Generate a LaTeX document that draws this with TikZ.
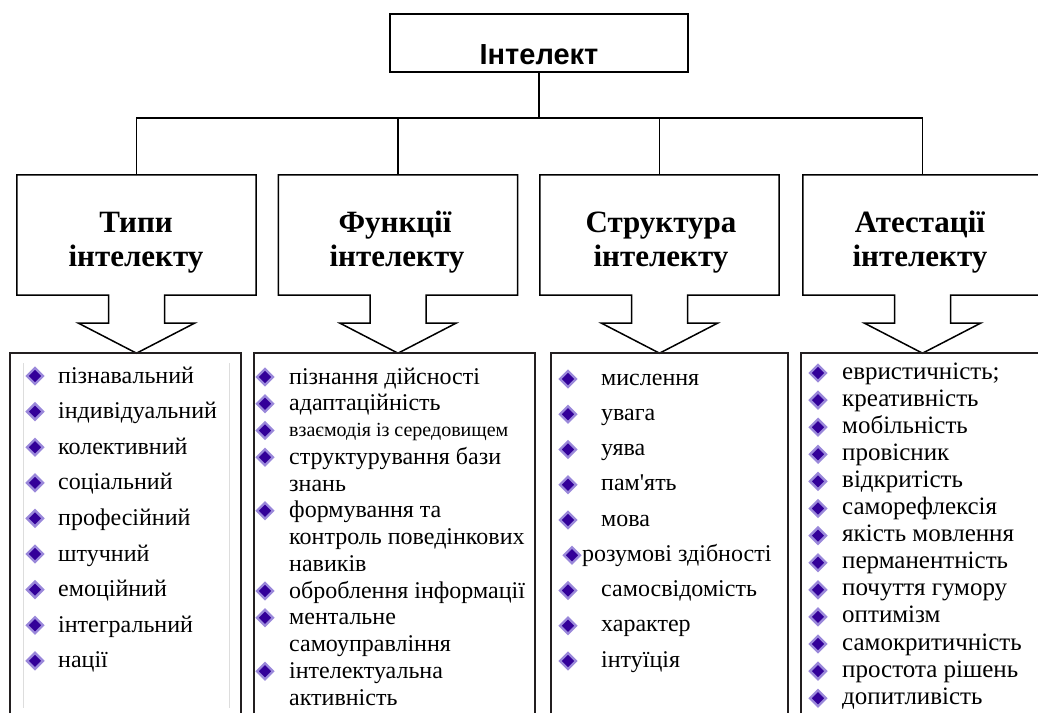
\documentclass[tikz,border=0pt]{standalone}
\usepackage{fontspec}
\setmainfont{Liberation Serif}[Ligatures=TeXOff]
\newfontfamily\headsans{Liberation Sans}
\usetikzlibrary{shapes.geometric,calc}
\definecolor{bulletfill}{HTML}{330099}
\definecolor{bulletedge}{HTML}{9A88DA}
\definecolor{boxline}{HTML}{231F20}
\definecolor{faint}{HTML}{DDDDDD}
\begin{document}
\begin{tikzpicture}[x=1pt,y=-1pt,
  calloutframe/.style={draw=black,line width=1.5pt,line join=miter,fill=white},
  conn/.style={draw=black,line width=1.2pt},
  topbox/.style={draw=black,line width=1.5pt,minimum width=298pt,minimum height=58pt,inner sep=0pt},
  toptext/.style={font=\headsans\bfseries\fontsize{29}{32}\selectfont,inner sep=0pt},
  headbox/.style={minimum width=239pt,minimum height=120pt,inner sep=0pt},
  headtext/.style={font=\bfseries\fontsize{31}{34}\selectfont,inner sep=0pt,anchor=base},
  listframe/.style={draw=boxline,line width=1.6pt},
  listitem/.style={anchor=base west,inner sep=0pt,font=\fontsize{24}{24}\selectfont},
  bigitem/.style={anchor=base west,inner sep=0pt,font=\fontsize{25}{25}\selectfont},
  smallitem/.style={anchor=base west,inner sep=0pt,font=\fontsize{20}{20}\selectfont},
  bul/.style={diamond,fill=bulletfill,draw=bulletedge,line width=2.4pt,minimum size=17pt,inner sep=0pt},
]
\useasboundingbox (0,0) rectangle (1038,713);
\clip (0,0) rectangle (1038,713);

% top box
\node[topbox] (top) at (539,43) {};
\node[toptext] (toplabel) at ($(top.center)+(0,12)$) {Інтелект};

% heading boxes (frames used as anchors)
\node[headbox] (h1) at (136.5,235) {};
\node[headbox] (h2) at (398,235) {};
\node[headbox] (h3) at (659.5,235) {};
\node[headbox] (h4) at (922.5,235) {};

% bus connectors
\coordinate (bus) at (539,118);
\draw[conn] (top.south) -- (bus);
\draw[conn] (h1.north) -- (h1.north |- bus) -- (h4.north |- bus) -- (h4.north);
\draw[conn] (h2.north) -- (h2.north |- bus);
\draw[conn] (h3.north) -- (h3.north |- bus);

% callout outlines
\foreach \h in {h1,h2,h3,h4}{
  \draw[calloutframe] (\h.north west) -- (\h.north east) -- (\h.south east)
    -- ($(\h.south)+(28,0)$) -- ($(\h.south)+(28,28)$) -- ($(\h.south)+(58,28)$)
    -- ($(\h.south)+(0,58)$) -- ($(\h.south)+(-58,28)$) -- ($(\h.south)+(-28,28)$)
    -- ($(\h.south)+(-28,0)$) -- (\h.south west) -- cycle;
}

% heading texts
\node[headtext] (h1a) at (136,232) {Типи};
\node[headtext] (h1b) at (136,266) {інтелекту};
\node[headtext] (h2a) at (395,232) {Функції};
\node[headtext] (h2b) at (397,266) {інтелекту};
\node[headtext] (h3a) at (661,232) {Структура};
\node[headtext] (h3b) at (661,266) {інтелекту};
\node[headtext] (h4a) at (920,232) {Атестації};
\node[headtext] (h4b) at (920,266) {інтелекту};

% list frames (open at the bottom)
\draw[listframe] (10,713) -- (10,353) -- (241,353) -- (241,713);
\draw[listframe] (254,713) -- (254,353) -- (535,353) -- (535,713);
\draw[listframe] (551,713) -- (551,353) -- (788,353) -- (788,713);
\draw[listframe] (801,713) -- (801,353) -- (1060,353) -- (1060,713);
\draw[faint,line width=0.8pt] (23,363) -- (23,708);
\draw[faint,line width=0.8pt] (229,363) -- (229,708);

% list 1
\foreach \t [count=\i from 0] in {пізнавальний,індивідуальний,колективний,соціальний,професійний,штучний,емоційний,інтегральний,нації}{
  \node[bul] (ba\i) at (35,376+35.6*\i) {};
  \node[listitem] (ta\i) at (58,383+35.6*\i) {\t};
}

% list 2
\node[listitem] (tb0) at (289,384.0) {пізнання дійсності};
\node[listitem] (tb1) at (289,410.8) {адаптаційність};
\node[smallitem] (tb2) at (289,436.5) {взаємодія із середовищем};
\node[listitem] (tb3) at (289,464.3) {структурування бази};
\node[listitem] (tb4) at (289,491.0) {знань};
\node[listitem] (tb5) at (289,517.8) {формування та};
\node[listitem] (tb6) at (289,544.5) {контроль поведінкових};
\node[listitem] (tb7) at (289,571.3) {навиків};
\node[listitem] (tb8) at (289,598.0) {оброблення інформації};
\node[listitem] (tb9) at (289,624.8) {ментальне};
\node[listitem] (tb10) at (289,651.5) {самоуправління};
\node[listitem] (tb11) at (289,678.3) {інтелектуальна};
\node[listitem] (tb12) at (289,705.0) {активність};
\foreach \k in {0,1,2,3,5,8,9,11}{
  \node[bul] (bb\k) at (265,377+26.75*\k) {};
}

% list 3
\foreach \t [count=\i from 0] in {мислення,увага,уява,пам'ять,мова}{
  \node[bul] (bc\i) at (568,379+35.25*\i) {};
  \node[listitem] (tc\i) at (601,385+35.25*\i) {\t};
}
\node[bul] (bc5) at (572,379+35.25*5) {};
\node[listitem] (tc5) at (582,385+35.25*5) {розумові здібності};
\foreach \t [count=\i from 6] in {самосвідомість,характер,інтуїція}{
  \node[bul] (bc\i) at (568,379+35.25*\i) {};
  \node[listitem] (tc\i) at (601,385+35.25*\i) {\t};
}

% list 4
\foreach \t [count=\i from 0] in {евристичність;,креативність,мобільність,провісник,відкритість,саморефлексія,якість мовлення,перманентність,почуття гумору,оптимізм,самокритичність,простота рішень,допитливість}{
  \node[bul] (bd\i) at (818,373+27.1*\i) {};
  \node[bigitem] (td\i) at (842,379+27.1*\i) {\t};
}
\end{tikzpicture}
\end{document}
